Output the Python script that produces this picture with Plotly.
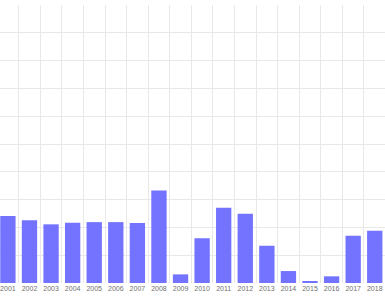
import plotly.graph_objects as go

years = [str(y) for y in range(2001, 2019)]
values = [24.1, 22.6, 21.1, 21.7, 21.9, 21.9, 21.6, 33.3, 3.1, 16.1,
          27.1, 24.9, 13.4, 4.3, 0.4, 2.4, 17.0, 18.8]

fig = go.Figure(go.Bar(x=years, y=values, marker_color="#7373ff",
                       marker_line_width=0))
fig.update_layout(
    width=385, height=300,
    margin=dict(l=0, r=0, t=5, b=17, autoexpand=False),
    paper_bgcolor="white", plot_bgcolor="white",
    bargap=0.29, showlegend=False,
    font=dict(family="Liberation Sans", size=7, color="#777"),
)
fig.update_xaxes(type="category", range=[-0.366, 17.475], tickson="boundaries",
                 showgrid=True, gridcolor="#e8e8e8", gridwidth=1,
                 ticks="outside", ticklen=3, tickcolor="rgba(0,0,0,0)",
                 ticklabeloverflow="allow", showline=False,
                 tickangle=0, automargin=False,
                 zeroline=False, tickfont=dict(family="Liberation Sans", size=7, color="#707070"))
fig.update_yaxes(range=[0, 100], dtick=10, showgrid=True, gridcolor="#e8e8e8",
                 showticklabels=False, zeroline=False, showline=False, ticks="",
                 automargin=False)
fig.write_html("out.html")
